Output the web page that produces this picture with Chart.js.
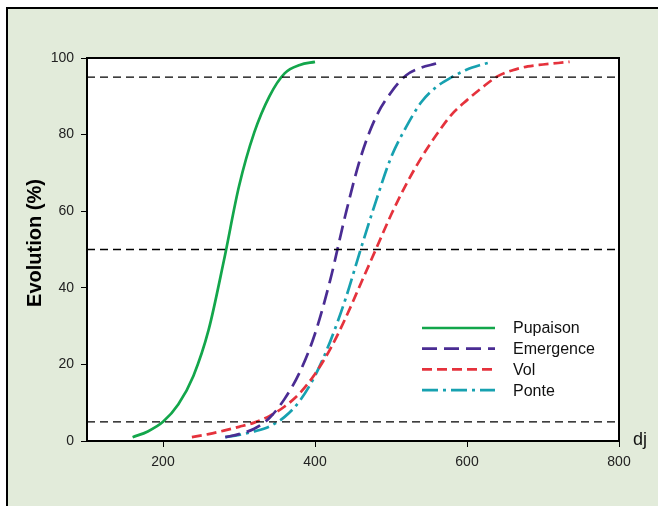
<!DOCTYPE html>
<html>
<head>
<meta charset="utf-8">
<script src="https://cdn.jsdelivr.net/npm/chart.js@4"></script>
<style>
html,body{margin:0;padding:0;background:#fff;}
#wrap{width:658px;height:506px;position:relative;}
</style>
</head>
<body>
<div id="wrap"><canvas id="c" width="658" height="506"></canvas></div>
<script>
// ---- data ----
const xTickValues = [200, 400, 600, 800];
const yTickValues = [0, 20, 40, 60, 80, 100];
const refLevels = [5, 50, 95];

const pupaisonX = [160, 180, 200, 220, 240, 260, 280, 300, 320, 340, 360, 380, 400];
const pupaisonY = [1, 2.5, 5, 9.5, 17, 29, 47, 66.5, 80.5, 90, 96, 98.2, 99];

const emergenceX = [282, 300, 320, 340, 360, 380, 400, 420, 440, 460, 480, 500, 520, 540, 560, 566];
const emergenceY = [1, 1.8, 3.2, 6, 11, 18, 28, 42, 59, 74, 84.5, 91, 95.5, 97.5, 98.6, 99];

const volX = [238, 260, 280, 300, 320, 340, 360, 380, 400, 420, 440, 460, 480, 500, 520, 540, 560, 580, 600, 620, 640, 660, 680, 700, 720, 735];
const volY = [1, 1.8, 2.7, 3.7, 4.8, 6.5, 9, 12.5, 17.5, 24, 32, 41, 50, 59, 67, 74, 80, 85.3, 89, 92.3, 95.2, 96.8, 97.8, 98.3, 98.7, 99];

const ponteX = [282, 300, 320, 340, 360, 380, 400, 420, 440, 460, 480, 500, 520, 540, 560, 580, 600, 620, 633];
const ponteY = [1, 1.6, 2.5, 3.8, 6.3, 10.5, 17, 26, 37, 50, 62.5, 74, 82, 88.5, 92.5, 95, 97, 98.3, 99];

const seriesNames = ['Pupaison', 'Emergence', 'Vol', 'Ponte'];

function pts(xs, ys){ return xs.map((x,i)=>({x:x, y:ys[i]})); }

const seriesStyles = [
  {color:'#13a64b', dash:[]},
  {color:'#4a2c93', dash:[15,7]},
  {color:'#e5323c', dash:[10,5]},
  {color:'#17a1b0', dash:[16,5,3,5]}
];
const seriesData = [pts(pupaisonX,pupaisonY), pts(emergenceX,emergenceY), pts(volX,volY), pts(ponteX,ponteY)];

const FONT = '"Liberation Sans", Arial, sans-serif';

const datasets = [];
refLevels.forEach(v=>{
  datasets.push({label:'ref'+v, data:[{x:100,y:v},{x:800,y:v}], borderColor:'#000', borderWidth:1.4,
    borderDash:[8,5], pointRadius:0, fill:false, isRef:true});
});
seriesNames.forEach((n,i)=>{
  datasets.push({label:n, data:seriesData[i], borderColor:seriesStyles[i].color, borderWidth:2.7,
    borderDash:seriesStyles[i].dash, pointRadius:0, fill:false, cubicInterpolationMode:'monotone'});
});

const framePlugin = {
  id:'frame',
  beforeDraw(chart){
    const ctx = chart.ctx, a = chart.chartArea;
    ctx.save();
    ctx.fillStyle = '#e2ebda';
    ctx.fillRect(7, 8, 700, 600);
    ctx.strokeStyle = '#000'; ctx.lineWidth = 2;
    ctx.beginPath(); ctx.moveTo(7, 560); ctx.lineTo(7, 8); ctx.lineTo(700, 8); ctx.stroke();
    ctx.fillStyle = '#fff';
    ctx.fillRect(a.left, a.top, a.right - a.left, a.bottom - a.top);
    ctx.restore();
  },
  afterDraw(chart){
    const ctx = chart.ctx, a = chart.chartArea;
    ctx.save();
    ctx.strokeStyle = '#000'; ctx.lineWidth = 2;
    ctx.strokeRect(a.left, a.top, a.right - a.left, a.bottom - a.top);
    // y title
    ctx.fillStyle = '#000';
    ctx.font = 'bold 20px ' + FONT;
    ctx.textAlign = 'center'; ctx.textBaseline = 'middle';
    ctx.translate(35, 243); ctx.rotate(-Math.PI/2);
    ctx.fillText('Evolution (%)', 0, 0);
    ctx.restore();
    ctx.save();
    ctx.fillStyle = '#111';
    ctx.font = '18px ' + FONT;
    ctx.textAlign = 'left'; ctx.textBaseline = 'middle';
    ctx.fillText('dj', 633, 440);
    // legend
    const lx0 = 422, lx1 = 495, tx = 513, y0 = 328, dy = 20.7;
    ctx.font = '16px ' + FONT;
    chart.data.datasets.filter(d=>!d.isRef).forEach((d,i)=>{
      const y = y0 + i*dy;
      ctx.strokeStyle = d.borderColor; ctx.lineWidth = 2.7;
      ctx.setLineDash(d.borderDash || []);
      ctx.beginPath(); ctx.moveTo(lx0, y); ctx.lineTo(lx1, y); ctx.stroke();
      ctx.setLineDash([]);
      ctx.fillStyle = '#111';
      ctx.fillText(d.label, tx, y + 1);
    });
    ctx.restore();
  }
};

new Chart(document.getElementById('c'), {
  type:'line',
  data:{datasets:datasets},
  plugins:[framePlugin],
  options:{
    responsive:false, animation:false, devicePixelRatio:1,
    layout:{padding:{left:0, top:58, right:39, bottom:0}},
    plugins:{legend:{display:false}, tooltip:{enabled:false}},
    scales:{
      x:{type:'linear', min:100, max:800,
        afterBuildTicks(s){ s.ticks = xTickValues.map(v=>({value:v})); },
        afterFit(s){ s.height = 65; },
        grid:{drawOnChartArea:false, drawTicks:true, tickLength:6, color:'#000', lineWidth:1},
        border:{display:true, color:'#000', width:2},
        ticks:{color:'#222', padding:7, font:{size:14, family:FONT}, maxRotation:0}
      },
      y:{type:'linear', min:0, max:100,
        afterBuildTicks(s){ s.ticks = yTickValues.map(v=>({value:v})); },
        afterFit(s){ s.width = 87; },
        grid:{drawOnChartArea:false, drawTicks:true, tickLength:6, color:'#000', lineWidth:1},
        border:{display:true, color:'#000', width:2},
        ticks:{color:'#222', padding:7, font:{size:14, family:FONT}}
      }
    }
  }
});
</script>
</body>
</html>
